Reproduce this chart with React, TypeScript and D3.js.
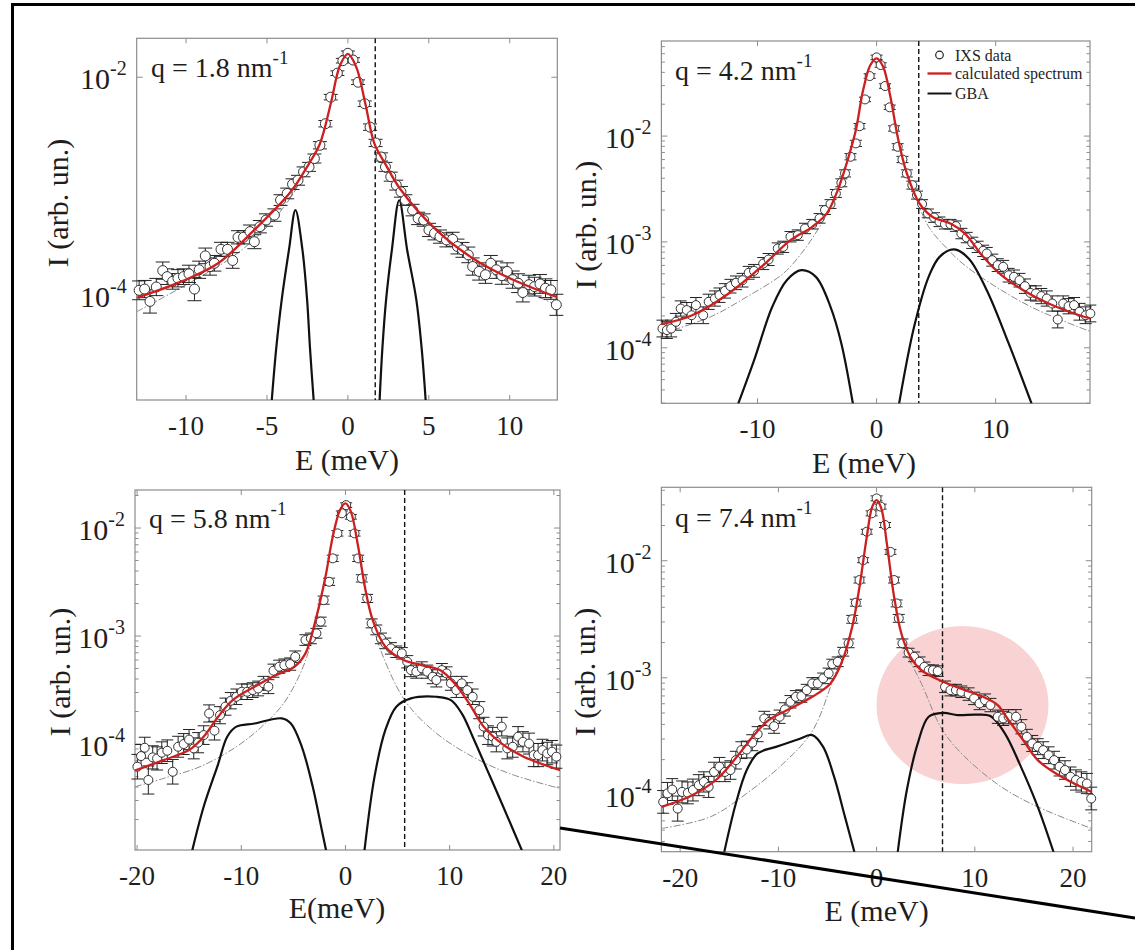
import React from 'react';
import * as d3 from 'd3';

type Pt = [number, number, number]; // E (meV), I, relative error
type Knot = [number, number]; // E (meV), I

// ---------- q = 1.8 nm^-1 ----------
const q18Data: Pt[] = [
  [-12.9, 1.1e-4, 0.22], [-12.56, 1.13e-4, 0.2], [-12.23, 8.7e-5, 0.28], [-11.84, 1.18e-4, 0.2],
  [-11.44, 1.67e-4, 0.2], [-11.17, 1.47e-4, 0.18], [-10.83, 1.33e-4, 0.18], [-10.5, 1.42e-4, 0.2],
  [-10.16, 1.47e-4, 0.18], [-9.82, 1.56e-4, 0.2], [-9.48, 1.13e-4, 0.28], [-9.19, 1.7e-4, 0.2],
  [-8.81, 2.28e-4, 0.18], [-8.52, 1.82e-4, 0.2], [-8.25, 1.95e-4, 0.18], [-7.84, 2.62e-4, 0.16],
  [-7.44, 2.62e-4, 0.16], [-7.12, 2.07e-4, 0.18], [-6.79, 3.38e-4, 0.15], [-6.45, 3.38e-4, 0.15],
  [-6.05, 3.81e-4, 0.15], [-5.78, 3.08e-4, 0.16], [-5.44, 4.23e-4, 0.14], [-5.06, 4.87e-4, 0.14],
  [-4.54, 5.41e-4, 0.14], [-4.16, 7.43e-4, 0.12], [-3.75, 8.55e-4, 0.12], [-3.42, 1.04e-3, 0.12],
  [-3.08, 1.13e-3, 0.11], [-2.74, 1.35e-3, 0.11], [-2.4, 1.5e-3, 0.1], [-2.07, 1.79e-3, 0.1],
  [-1.73, 2.37e-3, 0.08], [-1.39, 3.74e-3, 0.07], [-1.06, 6.56e-3, 0.06], [-0.65, 1.09e-2, 0.05],
  [-0.31, 1.42e-2, 0.05], [0.0, 1.66e-2, 0.05], [0.32, 1.44e-2, 0.05], [0.63, 9.0e-3, 0.05],
  [1.04, 5.71e-3, 0.06], [1.37, 3.48e-3, 0.07], [1.71, 2.49e-3, 0.08], [2.05, 1.85e-3, 0.09],
  [2.32, 1.5e-3, 0.1], [2.65, 1.22e-3, 0.1], [2.99, 1.02e-3, 0.11], [3.28, 8.85e-4, 0.12],
  [3.55, 7.43e-4, 0.12], [4.0, 6.01e-4, 0.13], [4.34, 5.04e-4, 0.14], [4.68, 4.87e-4, 0.14],
  [5.01, 3.95e-4, 0.15], [5.35, 3.68e-4, 0.15], [5.69, 3.43e-4, 0.15], [6.09, 3.2e-4, 0.16],
  [6.47, 3.24e-4, 0.16], [6.77, 2.78e-4, 0.17], [7.08, 2.59e-4, 0.17], [7.44, 2.33e-4, 0.18],
  [7.71, 1.82e-4, 0.2], [8.11, 1.64e-4, 0.2], [8.5, 1.53e-4, 0.2], [8.83, 1.95e-4, 0.18],
  [9.17, 1.7e-4, 0.2], [9.51, 1.5e-4, 0.2], [9.84, 1.64e-4, 0.2], [10.18, 1.38e-4, 0.2],
  [10.52, 1.28e-4, 0.22], [10.81, 1.05e-4, 0.22], [11.19, 1.24e-4, 0.22], [11.53, 1.19e-4, 0.22],
  [11.87, 1.26e-4, 0.22], [12.21, 1.15e-4, 0.22], [12.54, 1.11e-4, 0.22], [12.88, 8.1e-5, 0.25],
];
const q18Fit: Knot[] = [
  [-13.05, 9.4e-5], [-10.27, 1.33e-4], [-8.02, 1.95e-4], [-5.78, 3.95e-4], [-3.53, 8.85e-4],
  [-2.4, 1.61e-3], [-1.73, 2.45e-3], [-1.06, 5.7e-3], [-0.49, 1.28e-2], [0, 1.64e-2],
  [0.52, 1.24e-2], [1.08, 5.7e-3], [1.64, 2.45e-3], [2.31, 1.6e-3], [3.21, 9.5e-4],
  [5.46, 3.95e-4], [7.71, 2.17e-4], [9.96, 1.43e-4], [12.94, 9.5e-5],
];
const q18Central: Knot[] = [
  [-13.05, 7.0e-5], [-10.2, 1.19e-4], [-7.1, 2.25e-4], [-5.0, 4.2e-4], [-3.5, 8.0e-4],
  [-2.4, 1.55e-3], [-1.73, 2.4e-3], [-1.06, 5.6e-3], [-0.49, 1.26e-2], [0, 1.62e-2],
  [0.52, 1.22e-2], [1.08, 5.6e-3], [1.64, 2.4e-3], [2.31, 1.55e-3], [3.2, 9.0e-4],
  [5.4, 3.7e-4], [7.7, 2.0e-4], [10.0, 1.28e-4], [12.94, 8.0e-5],
];
const q18GbaLeft: Knot[] = [
  [-4.72, 1.0e-5], [-4.43, 3.2e-5], [-4.09, 9.0e-5], [-3.64, 2.6e-4], [-3.24, 6.0e-4],
  [-2.81, 2.6e-4], [-2.52, 9.0e-5], [-2.34, 3.2e-5], [-2.1, 1.0e-5],
];
const q18GbaRight: Knot[] = [
  [1.95, 1.0e-5], [2.13, 3.2e-5], [2.36, 9.0e-5], [2.72, 2.6e-4], [3.17, 7.4e-4],
  [3.66, 2.6e-4], [4.23, 9.0e-5], [4.56, 3.2e-5], [4.82, 1.0e-5],
];

// ---------- q = 4.2 nm^-1 ----------
const q42Data: Pt[] = [
  [-17.98, 1.52e-4, 0.2], [-17.61, 1.47e-4, 0.2], [-17.25, 1.52e-4, 0.2], [-16.85, 1.76e-4, 0.2],
  [-16.45, 2.35e-4, 0.18], [-15.94, 2.27e-4, 0.18], [-15.54, 2.03e-4, 0.2], [-15.17, 2.53e-4, 0.18],
  [-14.56, 2.03e-4, 0.2], [-14.1, 2.72e-4, 0.18], [-13.58, 2.92e-4, 0.18], [-13.19, 3.14e-4, 0.17],
  [-12.73, 3.45e-4, 0.17], [-12.27, 3.82e-4, 0.16], [-11.81, 4.11e-4, 0.16], [-11.26, 4.35e-4, 0.16],
  [-10.74, 5.11e-4, 0.15], [-10.29, 5.33e-4, 0.15], [-9.52, 6.25e-4, 0.14], [-9.07, 6.82e-4, 0.14],
  [-8.3, 8.67e-4, 0.13], [-7.84, 8.99e-4, 0.13], [-7.23, 1.12e-3, 0.12], [-6.62, 1.16e-3, 0.12],
  [-6.01, 1.34e-3, 0.12], [-5.4, 1.47e-3, 0.11], [-4.79, 1.67e-3, 0.11], [-4.33, 2.0e-3, 0.1],
  [-3.87, 2.28e-3, 0.1], [-3.42, 2.87e-3, 0.09], [-2.96, 3.62e-3, 0.09], [-2.65, 4.44e-3, 0.08],
  [-2.19, 6.38e-3, 0.07], [-1.74, 8.53e-3, 0.07], [-1.43, 1.24e-2, 0.06], [-0.97, 2.22e-2, 0.05],
  [-0.58, 3.69e-2, 0.05], [0.0, 5.54e-2, 0.05], [0.34, 4.69e-2, 0.05], [0.71, 2.97e-2, 0.05],
  [1.1, 1.87e-2, 0.05], [1.47, 1.18e-2, 0.06], [1.77, 7.92e-3, 0.07], [2.17, 6.01e-3, 0.07],
  [2.54, 4.44e-3, 0.08], [3.0, 3.44e-3, 0.09], [3.39, 2.77e-3, 0.09], [3.82, 2.28e-3, 0.1],
  [4.31, 1.86e-3, 0.1], [4.83, 1.7e-3, 0.11], [5.28, 1.55e-3, 0.11], [5.74, 1.47e-3, 0.11],
  [6.2, 1.47e-3, 0.11], [6.66, 1.41e-3, 0.12], [7.12, 1.2e-3, 0.12], [7.57, 1.1e-3, 0.12],
  [8.03, 9.81e-4, 0.13], [8.49, 8.99e-4, 0.13], [8.95, 8.24e-4, 0.13], [9.25, 7.78e-4, 0.14],
  [9.71, 6.73e-4, 0.14], [10.17, 6.04e-4, 0.15], [10.63, 5.82e-4, 0.15], [11.09, 4.85e-4, 0.16],
  [11.54, 4.68e-4, 0.16], [12.0, 4.35e-4, 0.16], [12.46, 3.82e-4, 0.17], [12.92, 3.3e-4, 0.17],
  [13.38, 3.26e-4, 0.18], [13.83, 3.08e-4, 0.18], [14.29, 2.92e-4, 0.18], [14.75, 2.62e-4, 0.18],
  [15.21, 1.85e-4, 0.2], [15.67, 2.62e-4, 0.18], [16.12, 2.47e-4, 0.18], [16.58, 2.53e-4, 0.18],
  [17.04, 2.19e-4, 0.2], [17.56, 2.03e-4, 0.2], [17.95, 2.11e-4, 0.2],
];
const q42Fit: Knot[] = [
  [-18.07, 1.67e-4], [-15.48, 2.03e-4], [-12.42, 3.26e-4], [-9.37, 6.25e-4], [-7.23, 1.04e-3],
  [-5.4, 1.39e-3], [-4.18, 1.86e-3], [-3.26, 3.09e-3], [-2.35, 6.38e-3], [-1.74, 1.14e-2],
  [-1.13, 2.72e-2], [-0.52, 4.69e-2], [0, 5.42e-2], [0.55, 4.52e-2], [1.16, 2.35e-2],
  [1.77, 9.86e-3], [2.54, 4.44e-3], [3.6, 2.31e-3], [4.67, 1.73e-3], [6.2, 1.49e-3],
  [7.42, 1.2e-3], [8.95, 7.23e-4], [10.48, 4.85e-4], [12.31, 3.5e-4], [14.45, 2.62e-4],
  [16.58, 2.11e-4], [17.92, 1.9e-4],
];
const q42Central: Knot[] = [
  [-18.07, 1.36e-4], [-13.95, 1.96e-4], [-10.9, 3.03e-4], [-7.84, 5.03e-4], [-6.32, 7.78e-4],
  [-4.79, 1.39e-3], [-3.26, 3.0e-3], [-2.35, 6.3e-3], [-1.74, 1.13e-2], [-1.13, 2.7e-2],
  [-0.52, 4.65e-2], [0, 5.4e-2], [0.55, 4.5e-2], [1.16, 2.33e-2], [1.77, 9.7e-3],
  [2.54, 4.3e-3], [3.3, 2.6e-3], [4.37, 1.39e-3], [5.9, 8.7e-4], [7.42, 6.0e-4],
  [10.48, 3.5e-4], [13.53, 2.27e-4], [17.92, 1.43e-4],
];
const q42GbaLeft: Knot[] = [
  [-11.7, 2.8e-5], [-10.29, 7.6e-5], [-8.76, 2.44e-4], [-7.54, 4.35e-4], [-6.32, 5.41e-4],
  [-5.1, 4.68e-4], [-3.87, 2.44e-4], [-2.96, 1.1e-4], [-1.95, 2.8e-5],
];
const q42GbaRight: Knot[] = [
  [1.85, 2.8e-5], [3.15, 1.58e-4], [4.37, 4.68e-4], [5.29, 7.23e-4], [6.51, 8.49e-4],
  [7.73, 6.98e-4], [9.25, 3.5e-4], [11.09, 1.1e-4], [13.1, 2.8e-5],
];

// ---------- q = 5.8 nm^-1 ----------
const q58Data: Pt[] = [
  [-19.97, 6.17e-5, 0.3], [-19.62, 7.74e-5, 0.28], [-19.27, 9.25e-5, 0.25], [-18.92, 4.65e-5, 0.35],
  [-18.5, 7.53e-5, 0.28], [-18.08, 7.36e-5, 0.28], [-17.63, 8.32e-5, 0.26], [-17.1, 8.67e-5, 0.26],
  [-16.58, 5.54e-5, 0.3], [-16.06, 9.44e-5, 0.25], [-15.53, 1.0e-4, 0.25], [-15.01, 1.1e-4, 0.24],
  [-14.56, 9.12e-5, 0.25], [-14.14, 1.03e-4, 0.24], [-13.61, 1.21e-4, 0.22], [-13.09, 1.92e-4, 0.2],
  [-12.57, 1.33e-4, 0.22], [-12.04, 1.85e-4, 0.2], [-11.52, 2.22e-4, 0.2], [-11.0, 2.52e-4, 0.19],
  [-10.47, 2.74e-4, 0.18], [-9.95, 3.05e-4, 0.18], [-9.43, 3.05e-4, 0.18], [-8.9, 3.16e-4, 0.17],
  [-8.38, 3.27e-4, 0.17], [-7.86, 3.65e-4, 0.16], [-7.4, 3.4e-4, 0.16], [-6.91, 4.78e-4, 0.15],
  [-6.36, 5.2e-4, 0.15], [-5.87, 5.38e-4, 0.14], [-5.31, 5.5e-4, 0.14], [-4.82, 6.44e-4, 0.13],
  [-3.84, 9.18e-4, 0.12], [-3.32, 9.51e-4, 0.12], [-2.79, 1.06e-3, 0.11], [-2.38, 1.36e-3, 0.1],
  [-2.1, 2.15e-3, 0.09], [-1.57, 3.18e-3, 0.08], [-1.22, 5.24e-3, 0.07], [-0.77, 8.93e-3, 0.06],
  [-0.35, 1.37e-2, 0.05], [0.07, 1.63e-2, 0.05], [0.52, 1.27e-2, 0.05], [0.87, 8.93e-3, 0.06],
  [1.22, 5.24e-3, 0.07], [1.57, 3.42e-3, 0.08], [2.09, 2.23e-3, 0.09], [2.51, 1.31e-3, 0.1],
  [2.96, 1.14e-3, 0.11], [3.41, 9.51e-4, 0.12], [3.83, 8.55e-4, 0.12], [4.36, 7.69e-4, 0.13],
  [4.88, 7.16e-4, 0.13], [5.41, 6.92e-4, 0.13], [5.93, 5.78e-4, 0.14], [6.28, 4.84e-4, 0.15],
  [6.8, 4.68e-4, 0.15], [7.33, 5.02e-4, 0.15], [7.85, 4.68e-4, 0.15], [8.37, 4.2e-4, 0.16],
  [8.72, 3.92e-4, 0.16], [9.25, 4.84e-4, 0.15], [9.7, 4.51e-4, 0.15], [10.12, 3.65e-4, 0.16],
  [10.64, 3.16e-4, 0.17], [11.16, 3.65e-4, 0.16], [11.69, 3.16e-4, 0.17], [12.21, 2.74e-4, 0.18],
  [12.84, 2.06e-4, 0.2], [13.26, 1.45e-4, 0.22], [13.68, 1.21e-4, 0.22], [14.13, 1.17e-4, 0.22],
  [14.48, 1.05e-4, 0.24], [15.0, 1.45e-4, 0.22], [15.53, 9.12e-5, 0.25], [16.05, 9.44e-5, 0.25],
  [16.57, 1.17e-4, 0.24], [17.03, 1.05e-4, 0.24], [17.62, 1.01e-4, 0.25], [18.07, 7.91e-5, 0.28],
  [18.49, 7.91e-5, 0.28], [18.91, 8.79e-5, 0.26], [19.36, 8.18e-5, 0.27], [19.82, 8.49e-5, 0.27],
  [20.24, 7.64e-5, 0.28],
];
const q58Fit: Knot[] = [
  [-20.2, 5.7e-5], [-17.45, 7.11e-5], [-15.01, 8.8e-5], [-13.61, 1.17e-4], [-12.22, 1.79e-4],
  [-10.82, 2.55e-4], [-8.73, 3.39e-4], [-6.63, 4.35e-4], [-4.9, 5.2e-4], [-3.84, 6.91e-4],
  [-2.79, 1.51e-3], [-1.92, 3.54e-3], [-1.22, 8.31e-3], [-0.52, 1.47e-2], [0, 1.69e-2],
  [0.52, 1.42e-2], [1.22, 6.71e-3], [1.92, 2.67e-3], [2.61, 1.41e-3], [3.83, 7.96e-4],
  [5.58, 6.0e-4], [7.32, 5.38e-4], [9.07, 4.84e-4], [10.47, 3.65e-4], [11.86, 2.38e-4],
  [13.26, 1.45e-4], [15.0, 1.01e-4], [17.1, 7.63e-5], [20.59, 5.74e-5],
];
const q58Central: Knot[] = [
  [-20.2, 4.02e-5], [-17.45, 4.81e-5], [-13.96, 6.17e-5], [-10.47, 9.44e-5], [-8.03, 1.45e-4],
  [-5.94, 2.38e-4], [-4.19, 4.84e-4], [-3.14, 9.86e-4], [-1.92, 3.5e-3], [-1.22, 8.2e-3],
  [-0.52, 1.45e-2], [0, 1.67e-2], [0.52, 1.4e-2], [1.22, 6.6e-3], [1.92, 2.6e-3],
  [2.61, 1.35e-3], [3.14, 8.55e-4], [5.68, 2.55e-4], [8.72, 1.26e-4], [12.21, 7.63e-5],
  [15.7, 5.35e-5], [20.59, 3.88e-5],
];
const q58GbaLeft: Knot[] = [
  [-14.8, 9.5e-6], [-13.61, 2.63e-5], [-12.22, 6.53e-5], [-11.35, 1.17e-4], [-10.47, 1.45e-4],
  [-8.73, 1.55e-4], [-6.11, 1.73e-4], [-5.24, 1.55e-4], [-4.19, 9.44e-5], [-3.14, 4.02e-5],
  [-2.27, 1.6e-5], [-1.78, 9.5e-6],
];
const q58GbaRight: Knot[] = [
  [1.78, 9.5e-6], [2.79, 4.99e-5], [3.83, 1.35e-4], [4.88, 2.22e-4], [6.28, 2.65e-4],
  [8.72, 2.74e-4], [10.12, 2.55e-4], [11.16, 1.92e-4], [12.21, 1.17e-4], [13.61, 5.74e-5],
  [15.0, 2.83e-5], [17.1, 9.5e-6],
];

// ---------- q = 7.4 nm^-1 ----------
const q74Data: Pt[] = [
  [-21.73, 8.71e-5, 0.25], [-21.29, 1.03e-4, 0.24], [-20.81, 1.11e-4, 0.24], [-20.25, 7.64e-5, 0.28],
  [-19.81, 1.06e-4, 0.24], [-19.22, 1.04e-4, 0.24], [-18.7, 1.1e-4, 0.24], [-18.1, 1.21e-4, 0.23],
  [-17.59, 1.29e-4, 0.22], [-17.1, 1.17e-4, 0.23], [-16.55, 1.57e-4, 0.21], [-16.0, 1.74e-4, 0.2],
  [-15.44, 1.57e-4, 0.21], [-14.88, 1.63e-4, 0.2], [-14.33, 1.98e-4, 0.19], [-13.77, 2.41e-4, 0.18],
  [-13.22, 2.44e-4, 0.18], [-12.66, 2.79e-4, 0.17], [-12.11, 3.3e-4, 0.16], [-11.44, 4.5e-4, 0.15],
  [-10.92, 4.21e-4, 0.15], [-10.44, 3.86e-4, 0.15], [-9.88, 4.65e-4, 0.14], [-9.33, 5.37e-4, 0.14],
  [-8.77, 6.24e-4, 0.13], [-8.22, 6.88e-4, 0.13], [-7.66, 6.98e-4, 0.13], [-7.11, 7.85e-4, 0.12],
  [-6.55, 8.95e-4, 0.12], [-6.0, 8.95e-4, 0.12], [-5.44, 9.89e-4, 0.11], [-4.88, 1.09e-3, 0.11],
  [-4.51, 1.31e-3, 0.1], [-3.96, 1.37e-3, 0.1], [-3.4, 1.67e-3, 0.09], [-2.85, 1.97e-3, 0.09],
  [-2.48, 3.16e-3, 0.08], [-2.11, 4.38e-3, 0.07], [-1.74, 6.84e-3, 0.06], [-1.37, 1.01e-2, 0.05],
  [-1.0, 1.77e-2, 0.05], [-0.51, 2.54e-2, 0.05], [0.0, 3.41e-2, 0.05], [0.41, 2.9e-2, 0.05],
  [0.86, 2.02e-2, 0.05], [1.41, 1.19e-2, 0.05], [1.78, 6.84e-3, 0.06], [2.04, 4.32e-3, 0.07],
  [2.26, 3.22e-3, 0.08], [2.63, 1.97e-3, 0.09], [3.26, 1.64e-3, 0.09], [3.82, 1.51e-3, 0.1],
  [4.37, 1.37e-3, 0.1], [4.86, 1.24e-3, 0.1], [5.3, 1.16e-3, 0.11], [5.74, 1.16e-3, 0.11],
  [6.22, 1.14e-3, 0.11], [6.97, 8.38e-4, 0.12], [7.52, 7.85e-4, 0.12], [8.08, 7.85e-4, 0.12],
  [8.63, 7.6e-4, 0.12], [9.37, 7.26e-4, 0.13], [9.93, 6.67e-4, 0.13], [10.48, 6.04e-4, 0.13],
  [11.04, 6.44e-4, 0.13], [11.59, 5.85e-4, 0.14], [12.34, 4.65e-4, 0.14], [12.89, 4.5e-4, 0.15],
  [13.44, 4.65e-4, 0.15], [14.19, 4.65e-4, 0.15], [14.74, 3.82e-4, 0.15], [15.3, 3.13e-4, 0.16],
  [15.85, 2.75e-4, 0.17], [16.41, 2.58e-4, 0.17], [16.96, 2.41e-4, 0.18], [17.52, 2.18e-4, 0.18],
  [18.07, 1.98e-4, 0.19], [18.63, 1.74e-4, 0.2], [19.18, 1.63e-4, 0.2], [19.74, 1.43e-4, 0.21],
  [20.3, 1.34e-4, 0.22], [20.85, 1.29e-4, 0.22], [21.41, 1.25e-4, 0.22], [21.85, 9.31e-5, 0.25],
];
const q74Fit: Knot[] = [
  [-21.91, 7.9e-5], [-18.77, 9.94e-5], [-16.18, 1.38e-4], [-13.96, 2.26e-4], [-12.47, 3.24e-4],
  [-10.99, 4.35e-4], [-8.77, 5.47e-4], [-6.55, 6.88e-4], [-4.7, 8.95e-4], [-3.59, 1.33e-3],
  [-2.48, 2.73e-3], [-1.74, 6.0e-3], [-1.0, 1.6e-2], [-0.44, 2.9e-2], [0, 3.3e-2],
  [0.48, 2.8e-2], [1.04, 1.41e-2], [1.78, 4.93e-3], [2.52, 2.39e-3], [3.45, 1.51e-3],
  [4.56, 1.16e-3], [6.78, 9.25e-4], [9.0, 7.85e-4], [10.85, 6.88e-4], [12.33, 5.85e-4],
  [13.44, 4.35e-4], [14.93, 2.93e-4], [16.41, 1.98e-4], [18.26, 1.52e-4], [20.11, 1.25e-4],
  [21.9, 1.06e-4],
];
const q74Central: Knot[] = [
  [-21.91, 5.16e-5], [-16.92, 6.49e-5], [-13.22, 1.03e-4], [-9.51, 1.85e-4], [-6.55, 3.5e-4],
  [-4.33, 1.02e-3], [-3.22, 1.84e-3], [-2.48, 2.7e-3], [-1.74, 5.9e-3], [-1.0, 1.57e-2],
  [-0.44, 2.85e-2], [0, 3.25e-2], [0.48, 2.75e-2], [1.04, 1.39e-2], [1.78, 4.85e-3],
  [2.52, 2.35e-3], [3.08, 1.6e-3], [4.56, 8.95e-4], [6.71, 3.57e-4], [9.0, 2.11e-4],
  [12.7, 1.17e-4], [16.41, 7.9e-5], [21.9, 5.16e-5],
];
const q74GbaLeft: Knot[] = [
  [-15.6, 3.0e-5], [-14.33, 8.43e-5], [-13.22, 1.63e-4], [-12.11, 2.26e-4], [-10.25, 2.57e-4],
  [-8.03, 2.97e-4], [-6.55, 3.24e-4], [-5.44, 2.57e-4], [-4.33, 1.43e-4], [-3.22, 6.49e-5],
  [-2.15, 3.0e-5],
];
const q74GbaRight: Knot[] = [
  [2.1, 3.0e-5], [3.08, 1.1e-4], [4.19, 2.75e-4], [5.3, 4.65e-4], [6.78, 5.02e-4],
  [8.26, 4.8e-4], [10.11, 4.85e-4], [11.59, 4.71e-4], [13.07, 3.34e-4], [14.55, 1.85e-4],
  [16.41, 7.9e-5], [18.15, 3.0e-5],
];

const legendItems = ['IXS data', 'calculated spectrum', 'GBA'];

const FONT = 'Liberation Serif, Times New Roman, DejaVu Serif, serif';
const TEXT = '#1e1e1e';
const RED = '#cc2020';
const FRAME = '#8c8c8c';

const panels = [
  {
    q: '1.8', data: q18Data, fit: q18Fit, central: q18Central, gba: [q18GbaLeft, q18GbaRight], cut: 1.69,
    box: { x0: 136.7, x1: 557.3, y0: 38.3, y1: 400 }, xDomain: [-13.05, 12.94], yDomain: [1.08e-5, 2.28e-2],
    xTicks: [-10, -5, 0, 5, 10], yExp: [-2, -4], minor: false, r: 5, cap: 7,
    title: { x: 151, y: 77 }, xLabel: { text: 'E (meV)', x: 347, y: 470 }, yLabel: { x: 68, y: 203 },
  },
  {
    q: '4.2', data: q42Data, fit: q42Fit, central: q42Central, gba: [q42GbaLeft, q42GbaRight], cut: 3.54,
    box: { x0: 661.4, x1: 1090, y0: 41, y1: 403.3 }, xDomain: [-18.07, 17.92], yDomain: [2.99e-5, 7.91e-2],
    xTicks: [-10, 0, 10], yExp: [-2, -3, -4], minor: true, r: 4.5, cap: 6,
    title: { x: 675, y: 80 }, xLabel: { text: 'E (meV)', x: 864, y: 473 }, yLabel: { x: 596, y: 225 },
    legend: true,
  },
  {
    q: '5.8', data: q58Data, fit: q58Fit, central: q58Central, gba: [q58GbaLeft, q58GbaRight], cut: 5.68,
    box: { x0: 135, x1: 560, y0: 490, y1: 850 }, xDomain: [-20.2, 20.59], yDomain: [1.045e-5, 2.25e-2],
    xTicks: [-20, -10, 0, 10, 20], yExp: [-2, -3, -4], minor: true, r: 4.5, cap: 6,
    title: { x: 149, y: 528 }, xLabel: { text: 'E(meV)', x: 337, y: 918 }, yLabel: { x: 70, y: 672 },
  },
  {
    q: '7.4', data: q74Data, fit: q74Fit, central: q74Central, gba: [q74GbaLeft, q74GbaRight], cut: 6.71,
    box: { x0: 661.4, x1: 1091.7, y0: 487.3, y1: 851.7 }, xDomain: [-21.91, 21.9], yDomain: [3.27e-5, 4.24e-2],
    xTicks: [-20, -10, 0, 10, 20], yExp: [-2, -3, -4], minor: true, r: 4.5, cap: 6,
    title: { x: 675, y: 527 }, xLabel: { text: 'E (meV)', x: 876.6, y: 921 }, yLabel: { x: 595, y: 672 },
    highlight: { cx: 962.5, cy: 705, rx: 86, ry: 79 },
  },
];

function Panel({ p, idx }: { p: any; idx: number }) {
  const { box } = p;
  const x = d3.scaleLinear().domain(p.xDomain).range([box.x0, box.x1]);
  const y = d3.scaleLog().domain(p.yDomain).range([box.y1, box.y0]);
  const line = d3
    .line<Knot>()
    .x((d) => x(d[0]))
    .y((d) => y(d[1]))
    .curve(d3.curveCatmullRom.alpha(0.5));
  const clipId = `clip-${idx}`;

  const majors = p.yExp.map((e: number) => Math.pow(10, e));
  const minors = p.minor
    ? y.ticks().filter((v) => Math.abs(Math.log10(v) - Math.round(Math.log10(v))) > 1e-6)
    : [];

  return (
    <g>
      <defs>
        <clipPath id={clipId}>
          <rect x={box.x0} y={box.y0} width={box.x1 - box.x0} height={box.y1 - box.y0} />
        </clipPath>
      </defs>

      {p.highlight && (
        <ellipse cx={p.highlight.cx} cy={p.highlight.cy} rx={p.highlight.rx} ry={p.highlight.ry} fill="#f9d3d3" />
      )}

      {/* frame */}
      <rect x={box.x0} y={box.y0} width={box.x1 - box.x0} height={box.y1 - box.y0} fill="none" stroke={FRAME} strokeWidth={1.2} />

      {/* x ticks top and bottom */}
      {p.xTicks.map((t: number) => (
        <g key={`xt${t}`}>
          <line x1={x(t)} x2={x(t)} y1={box.y1} y2={box.y1 - 5} stroke={FRAME} />
          <line x1={x(t)} x2={x(t)} y1={box.y0} y2={box.y0 + 5} stroke={FRAME} />
          <text x={x(t)} y={box.y1 + 35} textAnchor="middle" fontSize={27}>
            {t}
          </text>
        </g>
      ))}

      {/* y ticks */}
      {majors.map((v: number, i: number) => (
        <g key={`yt${i}`}>
          <line x1={box.x0} x2={box.x0 + 6} y1={y(v)} y2={y(v)} stroke={FRAME} />
          <line x1={box.x1} x2={box.x1 - 6} y1={y(v)} y2={y(v)} stroke={FRAME} />
          <text x={box.x0 - 10} y={y(v) + 12} textAnchor="end" fontSize={30}>
            <tspan>10</tspan>
            <tspan dy={-14} fontSize={20}>{p.yExp[i]}</tspan>
          </text>
        </g>
      ))}
      {minors.map((v: number, i: number) => (
        <g key={`ym${i}`}>
          <line x1={box.x0} x2={box.x0 + 3.5} y1={y(v)} y2={y(v)} stroke={FRAME} />
          <line x1={box.x1} x2={box.x1 - 3.5} y1={y(v)} y2={y(v)} stroke={FRAME} />
        </g>
      ))}

      <g clipPath={`url(#${clipId})`}>
        <path d={line(p.central) || ''} fill="none" stroke="#8a8a8a" strokeWidth={1} strokeDasharray="7 2 1.5 2" />
        {p.gba.map((seg: Knot[], i: number) => (
          <path key={`g${i}`} d={line(seg) || ''} fill="none" stroke="#111" strokeWidth={2.2} />
        ))}
        <line x1={x(p.cut)} x2={x(p.cut)} y1={box.y0} y2={box.y1} stroke="#111" strokeWidth={1.4} strokeDasharray="5 3" />
      </g>

      {/* data with error bars */}
      {p.data.map((d: Pt, i: number) => {
        const cx = x(d[0]);
        const lo = y(d[1] / (1 + d[2]));
        const hi = y(d[1] * (1 + d[2]));
        return (
          <g key={`d${i}`} stroke="#222" strokeWidth={1}>
            <line x1={cx} x2={cx} y1={lo} y2={hi} />
            <line x1={cx - p.cap} x2={cx + p.cap} y1={lo} y2={lo} />
            <line x1={cx - p.cap} x2={cx + p.cap} y1={hi} y2={hi} />
          </g>
        );
      })}
      {p.data.map((d: Pt, i: number) => (
        <circle key={`c${i}`} cx={x(d[0])} cy={y(d[1])} r={p.r} fill="#fff" stroke="#333" strokeWidth={1} />
      ))}

      <g clipPath={`url(#${clipId})`}>
        <path d={line(p.fit) || ''} fill="none" stroke={RED} strokeWidth={2.3} />
      </g>

      {/* title */}
      <text x={p.title.x} y={p.title.y} fontSize={28}>
        {`q = ${p.q} nm`}
        <tspan dy={-13} fontSize={19}>-1</tspan>
      </text>

      {/* axis labels */}
      <text x={p.xLabel.x} y={p.xLabel.y} textAnchor="middle" fontSize={30}>
        {p.xLabel.text}
      </text>
      <text transform={`translate(${p.yLabel.x},${p.yLabel.y}) rotate(-90)`} textAnchor="middle" fontSize={30}>
        I (arb. un.)
      </text>

      {p.legend && (
        <g fontSize={16}>
          <circle cx={939.5} cy={55} r={3.8} fill="#fff" stroke="#222" strokeWidth={1.2} />
          <text x={955} y={61}>{legendItems[0]}</text>
          <line x1={927.5} x2={951.5} y1={73.5} y2={73.5} stroke={RED} strokeWidth={2.3} />
          <text x={955} y={79}>{legendItems[1]}</text>
          <line x1={927.5} x2={951.5} y1={93.5} y2={93.5} stroke="#111" strokeWidth={2} />
          <text x={955} y={99}>{legendItems[2]}</text>
        </g>
      )}
    </g>
  );
}

export default function App() {
  return (
    <svg
      width={1135}
      height={950}
      viewBox="0 0 1135 950"
      style={{ position: 'absolute', left: 0, top: 0, background: '#fff', fontFamily: FONT, fill: TEXT }}
    >
      <rect x={0} y={0} width={1135} height={950} fill="#fff" />
      {panels.map((p, i) => (
        <Panel key={i} p={p} idx={i} />
      ))}
      {/* outer border (left and top edges visible) */}
      <line x1={12.5} x2={12.5} y1={3} y2={950} stroke="#000" strokeWidth={3} />
      <line x1={11} x2={1135} y1={4.5} y2={4.5} stroke="#000" strokeWidth={3} />
      {/* pointer line */}
      <line x1={560} y1={828} x2={1135} y2={918} stroke="#000" strokeWidth={3} />
    </svg>
  );
}
